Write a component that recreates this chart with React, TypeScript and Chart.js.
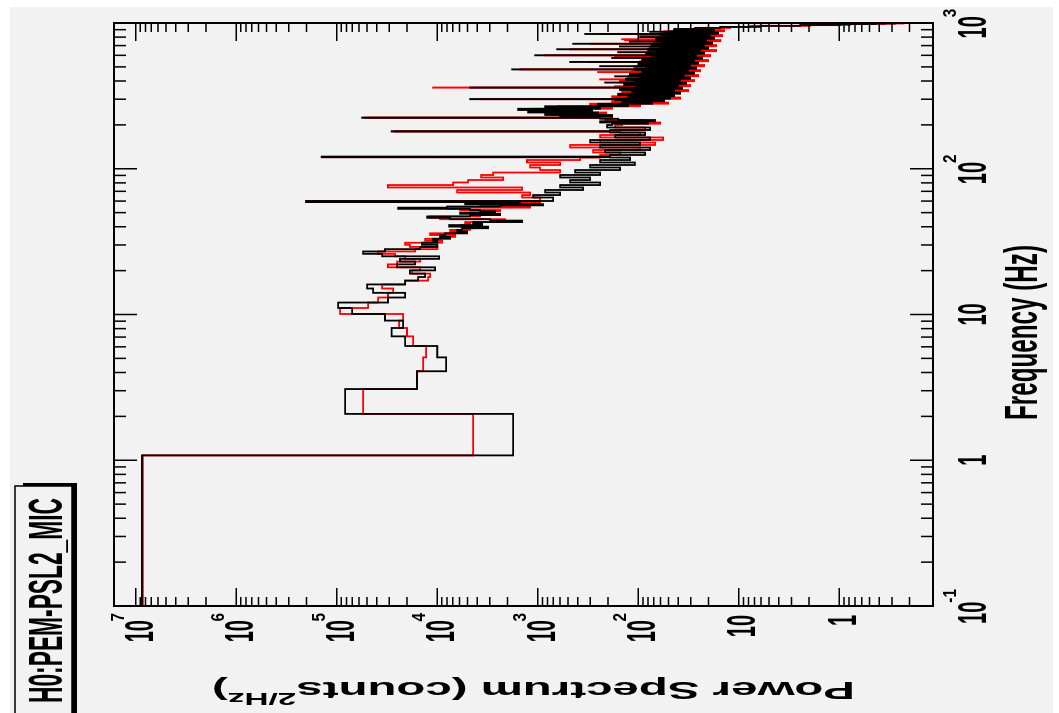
import React, { useEffect, useRef } from "react";
import { Chart, registerables } from "chart.js";

Chart.register(...registerables);

// ---------------- data ----------------
const freqRange = [0.1, 1000];
const powerRange = [0.117, 1.644e7];
const binWidth = 1;
const binOffset = 0.08;

// 1 Hz bins, bin 0 starts at the axis minimum
const lowBlack = [
  8.66e6, 1.76e3, 8.27e4, 1.59e4, 8.17e3, 1.0e4, 2.09e4, 2.84e4, 2.19e4, 3.31e4,
  7.04e4, 9.7e4, 3.09e4, 2.09e4, 4.35e4, 4.99e4, 2.09e4, 1.55e4, 1.32e4, 1.87e4,
  1.05e4, 2.51e4, 1.66e4, 2.35e4, 9.6e3, 3.54e4, 5.47e4, 3.31e4, 1.48e4, 1.0e4,
  1.42e4, 1.0e4, 1.1e4, 7.46e3, 9.38e3, 8.36e3, 5.05e3, 6.35e3, 5.66e3, 3.12e3,
  7.63e3, 3.58e3, 4.4e3, 1.43e3, 2.98e3, 7.46e3, 1.26e4, 4.72e3, 2.37e3, 5.93e3,
  2.66e3, 3.75e3, 4.72e3, 2.45e4, 7.99e3, 2.37e3, 885, 5.29e3, 1.5e3, 2.02e5,
];
const lowRed = [
  8.5e6, 4.4e3, 5.47e4, 1.59e4, 1.38e4, 1.29e4, 1.74e4, 2.0e4, 2.4e4, 2.19e4,
  9.27e4, 4.88e4, 3.88e4, 3.09e4, 2.75e4, 3.54e4, 2.09e4, 1.23e4, 1.18e4, 1.78e4,
  1.48e4, 3.09e4, 2.51e4, 1.48e4, 2.09e4, 2.63e4, 3.88e4, 1.66e4, 1.0e4, 1.87e4,
  2.09e4, 8.96e3, 1.32e4, 9.38e3, 6.65e3, 1.18e4, 5.05e3, 7.46e3, 4.72e3, 4.21e3,
  5.93e3, 4.72e3, 5.29e3, 2.37e3, 2.11e3, 9.38e3, 1.18e4, 3.75e3, 3.34e3, 4.72e3,
  2.98e3, 2.37e3, 5.93e3, 7.99e3, 1.19e3, 3.75e3, 1.5e3, 2.37e3, 948, 2.02e5,
];

// high-frequency part: step edges (Hz) and the level from each edge on
const hiEdges = [
  60.1, 63.5, 66, 68.7, 71.5, 74.4, 77.3, 80.5, 83.7, 87.1,
  90.6, 94.2, 98, 102, 106.1, 110.4, 114.8, 119.4, 124.3, 129.3,
  134.5, 139.9, 145.6, 151.4, 157.5, 163.9, 170.4, 177.3, 184.5, 191.9,
  199.6, 203.6, 207.7, 211.8, 216.0, 220.3, 224.7, 229.2, 233.8, 238.5,
  243.2, 248.0, 253.0, 258.0, 263.2, 268.5, 273.8, 279.3, 284.8, 290.5,
  296.3, 302.2, 308.3, 314.4, 320.6, 327.0, 333.6, 340.2, 347.0, 353.9,
  361.0, 368.2, 375.5, 383.0, 390.6, 398.4, 406.3, 414.4, 422.7, 431.1,
  439.7, 448.5, 457.4, 466.5, 475.8, 485.3, 495.0, 504.9, 514.9, 525.2,
  535.7, 546.4, 557.3, 568.4, 579.8, 591.3, 603.1, 615.2, 627.4, 640.0,
  652.7, 665.7, 679.0, 692.5, 706.3, 720.4, 734.8, 749.4, 764.4, 779.6,
  795.2, 811.0, 827.3, 843.7, 860.5, 877.7, 895.2, 910, 925, 940,
  956, 969, 984, 992,
];
const hiBlack = [
  704, 1110, 600, 846, 354, 600, 240, 477, 302, 600,
  240, 425, 152, 302, 108, 240, 121, 191, 85.5, 214,
  76.3, 240, 95.9, 302, 76.3, 170, 85.5, 191, 76.3, 204,
  182, 79.9, 240, 68.1, 159, 240, 600, 182, 846, 251,
  1249, 288, 1570, 240, 846, 126, 251, 72.9, 145, 55.4,
  170, 48.3, 126, 44.0, 159, 38.4, 115, 44.0, 152, 36.7,
  105, 40.2, 138, 33.4, 110, 38.4, 132, 30.5, 95.9, 35.0,
  121, 27.8, 91.6, 31.9, 105, 26.6, 83.6, 30.5, 100, 25.4,
  79.9, 27.8, 91.6, 23.2, 72.9, 26.6, 83.6, 22.1, 66.5, 24.3,
  79.9, 20.2, 60.7, 22.1, 72.9, 18.4, 58.0, 21.1, 66.5, 17.6,
  52.9, 19.3, 60.7, 16.1, 48.3, 17.6, 44.0, 27.2, 15.3, 6.14,
  2.45, 0.98, 0.44, 0.28,
];
const hiRed = [
  948, 1430, 1190, 6350, 1430, 3.09e4, 6960, 4940, 2210, 3660,
  2780, 600, 948, 1190, 600, 1280, 379, 240, 152, 282,
  95.9, 477, 68.1, 240, 56.6, 240, 95.9, 152, 85.5, 170,
  145, 60.7, 182, 85.5, 214, 182, 425, 240, 721, 209,
  846, 379, 1139, 182, 628, 95.9, 302, 50.5, 182, 60.7,
  121, 38.4, 182, 52.9, 121, 46.1, 145, 31.9, 121, 42.1,
  170, 30.5, 115, 38.4, 152, 27.8, 95.9, 35.0, 126, 25.4,
  85.5, 31.9, 115, 24.3, 79.9, 30.5, 110, 22.1, 76.3, 27.8,
  95.9, 20.2, 68.1, 25.4, 91.6, 19.3, 63.5, 24.3, 79.9, 16.8,
  58.0, 22.1, 76.3, 16.8, 52.9, 20.2, 69.6, 15.3, 50.5, 19.3,
  63.5, 14.7, 46.1, 17.6, 55.4, 14.0, 38.4, 24.3, 12.2, 7.72,
  1.95, 0.78, 0.35, 0.23,
];

// narrow lines (single 1 Hz bins); null = no line in that series
const spikeFreqs = [
  120, 180, 223.5, 300, 360, 390, 410, 430, 460, 480, 505, 540, 575,
  590, 600, 630, 660, 690, 720, 745, 760, 773, 800, 820, 840, 870,
];
const spikeBlack = [
  1.41e5, 2.84e4, 5.6e4, 4.72e3, 4.72e3, 214, null, 170, null, 1.8e3, 240, 477, 182,
  null, 1.06e3, 159, 643, 152, 445, 121, null, null, 95.9, null, 338, 76.3,
];
const spikeRed = [
  1.4e5, 2.63e4, 5.23e4, 3.75e3, 1.1e4, null, 240, null, 251, 1.5e3, null, 302, null,
  170, 846, null, 477, null, 302, null, 135, 145, null, 95.9, 240, null,
];

// axis ticks & labels
const freqMajor = [0.1, 1, 10, 100, 1000];
const freqLabelBase = ["10", "1", "10", "10", "10"];
const freqLabelExp = ["-1", "", "", "2", "3"];
const powerMajor = [1e7, 1e6, 1e5, 1e4, 1e3, 1e2, 10, 1];
const powerLabelBase = ["10", "10", "10", "10", "10", "10", "10", "1"];
const powerLabelExp = ["7", "6", "5", "4", "3", "2", "", ""];

const titleText = "H0:PEM-PSL2_MIC";
const xTitle = "Frequency (Hz)";
const yTitleMain = "Power Spectrum (counts";
const yTitleSup = "2/Hz";
const yTitleEnd = ")";

// ---------------- helpers ----------------
const FONT = '"Liberation Sans", Arial, Helvetica, sans-serif';
const BG = "#f2f2f2";

type Pt = { x: number; y: number };

function buildSeries(low: number[], hi: number[], spikes: (number | null)[]): Pt[] {
  const pts: Pt[] = [];
  low.forEach((v, k) => pts.push({ x: k === 0 ? freqRange[0] : k * binWidth + binOffset, y: v }));
  hi.forEach((v, i) => pts.push({ x: hiEdges[i], y: v }));
  spikeFreqs.forEach((f, i) => {
    const s = spikes[i];
    if (s == null) return;
    let j = 0;
    for (let n = 0; n < pts.length; n++) if (pts[n].x <= f) j = n;
    const base = pts[j].y;
    const next = pts[j + 1] ? pts[j + 1].x : Infinity;
    if (f + binWidth >= next) pts.splice(j + 1, 0, { x: f, y: s });
    else pts.splice(j + 1, 0, { x: f, y: s }, { x: f + binWidth, y: base });
  });
  pts.push({ x: freqRange[1], y: pts[pts.length - 1].y });
  return pts;
}

function minorTicks(lo: number, hi: number): number[] {
  const out: number[] = [];
  for (let e = Math.floor(Math.log10(lo)) - 1; e <= Math.ceil(Math.log10(hi)); e++) {
    for (let m = 2; m <= 9; m++) {
      const v = m * Math.pow(10, e);
      if (v > lo && v < hi) out.push(v);
    }
  }
  return out;
}

function setFont(ctx: CanvasRenderingContext2D, size: number) {
  ctx.font = `bold ${size}px ${FONT}`;
}

function text(
  ctx: CanvasRenderingContext2D,
  s: string,
  x: number,
  y: number,
  size: number,
  sx: number,
  align: CanvasTextAlign
) {
  ctx.save();
  ctx.translate(x, y);
  ctx.scale(sx, 1);
  setFont(ctx, size);
  ctx.textAlign = align;
  ctx.textBaseline = "alphabetic";
  ctx.fillText(s, 0, 0);
  ctx.restore();
}

const MAIN_SIZE = 40;
const MAIN_SX = 0.5;
const SUP_SIZE = 18;
const SUP_SX = 0.85;

const rootPlugin = {
  id: "rootStyle",
  beforeDraw(chart: any) {
    const ctx: CanvasRenderingContext2D = chart.ctx;
    ctx.save();
    ctx.fillStyle = "#ffffff";
    ctx.fillRect(0, 0, chart.width, chart.height);
    ctx.fillStyle = BG;
    ctx.fillRect(0, 10, 706, 1043);
    ctx.restore();
  },
  afterDatasetsDraw(chart: any) {
    const ctx: CanvasRenderingContext2D = chart.ctx;
    const ca = chart.chartArea;
    const xs = chart.scales.x;
    const ys = chart.scales.y;
    ctx.save();
    ctx.strokeStyle = "#000";
    ctx.fillStyle = "#000";

    // ---- ticks ----
    ctx.lineWidth = 1.5;
    ctx.beginPath();
    const fMin = minorTicks(freqRange[0], freqRange[1]);
    const drawF = (f: number, len: number) => {
      const u = xs.getPixelForValue(f);
      ctx.moveTo(u, ca.top);
      ctx.lineTo(u, ca.top + len);
      ctx.moveTo(u, ca.bottom);
      ctx.lineTo(u, ca.bottom - len);
    };
    freqMajor.forEach((f) => drawF(f, 23));
    fMin.forEach((f) => drawF(f, 12));
    const pMin = minorTicks(powerRange[0], powerRange[1]);
    const drawP = (p: number, len: number) => {
      const v = ys.getPixelForValue(p);
      ctx.moveTo(ca.left, v);
      ctx.lineTo(ca.left + len, v);
      ctx.moveTo(ca.right, v);
      ctx.lineTo(ca.right - len, v);
    };
    powerMajor.forEach((p) => drawP(p, 18));
    pMin.forEach((p) => drawP(p, 9));
    ctx.stroke();

    // ---- frame ----
    ctx.lineWidth = 2;
    ctx.strokeRect(ca.left, ca.top, ca.right - ca.left, ca.bottom - ca.top);

    // ---- power tick labels ----
    powerMajor.forEach((p, i) => {
      const v = ys.getPixelForValue(p);
      const base = powerLabelBase[i];
      const exp = powerLabelExp[i];
      if (exp) {
        setFont(ctx, SUP_SIZE);
        const sw = ctx.measureText(exp).width * SUP_SX;
        text(ctx, exp, 100, v - 12, SUP_SIZE, SUP_SX, "right");
        text(ctx, base, 100 - sw + 1.5, v + 16.8, MAIN_SIZE, MAIN_SX, "right");
      } else {
        text(ctx, base, 98, v + 16.5, MAIN_SIZE, MAIN_SX, "right");
      }
    });

    // ---- frequency tick labels ----
    freqMajor.forEach((f, i) => {
      const u = xs.getPixelForValue(f);
      const base = freqLabelBase[i];
      const exp = freqLabelExp[i];
      setFont(ctx, MAIN_SIZE);
      const mw = ctx.measureText(base).width * MAIN_SX;
      setFont(ctx, SUP_SIZE);
      const sw = exp ? ctx.measureText(exp).width * SUP_SX : 0;
      const u0 = u - (mw + sw) / 2;
      text(ctx, base, u0, 986, MAIN_SIZE, MAIN_SX, "left");
      if (exp) text(ctx, exp, u0 + mw - 1, 956, SUP_SIZE, SUP_SX, "left");
    });

    // ---- x title ----
    {
      const size = 47;
      setFont(ctx, size);
      const w = ctx.measureText(xTitle).width;
      text(ctx, xTitle, 293, 1037, size, 175 / w, "left");
    }

    // ---- y title (rotated) ----
    {
      const size = 47;
      const supSize = 33;
      setFont(ctx, size);
      const w1 = ctx.measureText(yTitleMain).width;
      const w3 = ctx.measureText(yTitleEnd).width;
      setFont(ctx, supSize);
      const w2 = ctx.measureText(yTitleSup).width;
      const s = (855 - 212) / (w1 + w2 + w3);
      ctx.save();
      ctx.translate(31.3, 855);
      ctx.scale(0.5, 1);
      ctx.rotate(-Math.PI / 2);
      ctx.scale(s, 1);
      ctx.textAlign = "left";
      ctx.textBaseline = "alphabetic";
      setFont(ctx, size);
      ctx.fillText(yTitleMain, 0, 0);
      setFont(ctx, supSize);
      ctx.fillText(yTitleSup, w1, -22.6);
      setFont(ctx, size);
      ctx.fillText(yTitleEnd, w1 + w2, 0);
      ctx.restore();
    }

    // ---- title box with shadow ----
    {
      const u0 = -6, u1 = 227, v0 = 15, v1 = 72;
      ctx.fillStyle = "#000";
      ctx.fillRect(u1, v0 + 8, 3, v1 - v0 - 8 + 5);
      ctx.fillRect(u0, v1, u1 - u0 + 3, 5);
      ctx.fillStyle = BG;
      ctx.fillRect(u0, v0, u1 - u0, v1 - v0);
      ctx.strokeStyle = "#000";
      ctx.lineWidth = 1.5;
      ctx.strokeRect(u0, v0, u1 - u0, v1 - v0);
      ctx.fillStyle = "#000";
      const size = 48;
      setFont(ctx, size);
      const w = ctx.measureText(titleText).width;
      text(ctx, titleText, 10, 62, size, 205 / w, "left");
    }
    ctx.restore();
  },
};

export default function App() {
  const ref = useRef<HTMLCanvasElement | null>(null);
  useEffect(() => {
    const canvas = ref.current;
    if (!canvas) return;
    const redPts = buildSeries(lowRed, hiRed, spikeRed);
    const blackPts = buildSeries(lowBlack, hiBlack, spikeBlack);
    const chart = new Chart(canvas, {
      type: "line",
      data: {
        datasets: [
          {
            label: "current",
            data: blackPts,
            borderColor: "#000000",
            borderWidth: 1.8,
            stepped: "before",
            pointRadius: 0,
            fill: false,
          },
          {
            label: "reference",
            data: redPts,
            borderColor: "#ff0000",
            borderWidth: 1.8,
            stepped: "before",
            pointRadius: 0,
            fill: false,
          },
        ],
      },
      options: {
        animation: false,
        responsive: false,
        devicePixelRatio: 1,
        events: [],
        layout: { padding: { left: 107, right: 23, top: 114, bottom: 126 } },
        scales: {
          x: { type: "logarithmic", min: freqRange[0], max: freqRange[1], display: false },
          y: { type: "logarithmic", min: powerRange[0], max: powerRange[1], display: false },
        },
        plugins: {
          legend: { display: false },
          tooltip: { enabled: false },
          title: { display: false },
        },
      },
      plugins: [rootPlugin],
    } as any);
    return () => chart.destroy();
  }, []);

  return (
    <div
      style={{
        position: "fixed",
        left: 0,
        top: 0,
        width: 1059,
        height: 713,
        overflow: "hidden",
        background: "#ffffff",
      }}
    >
      <div
        style={{
          position: "absolute",
          left: 0,
          top: 0,
          width: 713,
          height: 1059,
          transformOrigin: "0 0",
          transform: "translateY(713px) rotate(-90deg)",
        }}
      >
        <canvas ref={ref} width={713} height={1059} style={{ display: "block", width: 713, height: 1059 }} />
      </div>
    </div>
  );
}
